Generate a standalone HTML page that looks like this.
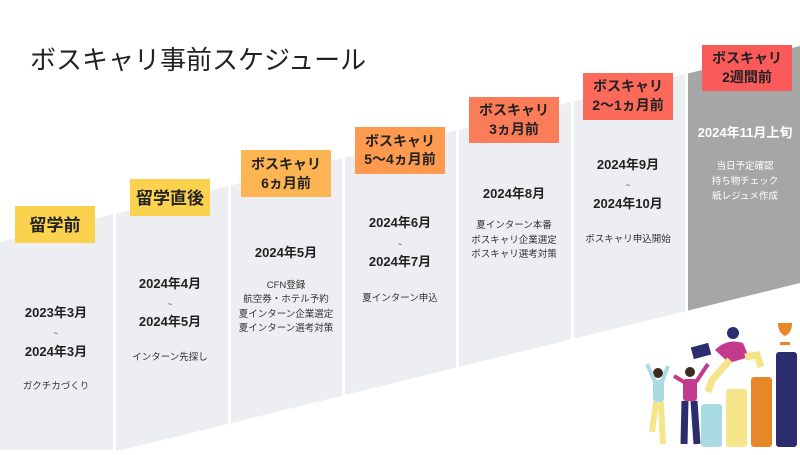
<!DOCTYPE html>
<html><head><meta charset="utf-8"><style>
body{margin:0;width:800px;height:450px;overflow:hidden;background:#fff;font-family:"Liberation Sans","Noto Sans CJK JP",sans-serif;}
svg text{font-family:"Liberation Sans","Noto Sans CJK JP",sans-serif;}
</style></head><body>
<svg width="800" height="450" viewBox="0 0 800 450">
<defs><clipPath id="band"><polygon points="0,242 800,46 800,283 0,480"/></clipPath></defs>
<g clip-path="url(#band)">
<rect x="0" y="0" width="113" height="450" fill="#eceef1"/>
<rect x="116" y="0" width="112" height="450" fill="#eceef1"/>
<rect x="231" y="0" width="111" height="450" fill="#eceef1"/>
<rect x="345" y="0" width="111" height="450" fill="#eceef1"/>
<rect x="459" y="0" width="112" height="450" fill="#eceef1"/>
<rect x="574" y="0" width="111" height="450" fill="#eceef1"/>
<rect x="688" y="0" width="112" height="450" fill="#a6a6a6"/>
</g>
<text x="30" y="69" font-size="26" fill="#222">ボスキャリ事前スケジュール</text>

<rect x="15" y="206" width="80" height="37" fill="#fbd24e"/>
<text x="55" y="231" font-size="17" font-weight="bold" text-anchor="middle" fill="#222">留学前</text>
<rect x="130" y="179" width="80" height="37" fill="#fbd24e"/>
<text x="170" y="204" font-size="17" font-weight="bold" text-anchor="middle" fill="#222">留学直後</text>
<rect x="241" y="150" width="90" height="47" fill="#fdb553"/>
<text x="286" y="169" font-size="14" font-weight="bold" text-anchor="middle" fill="#222">ボスキャリ</text>
<text x="286" y="188" font-size="14" font-weight="bold" text-anchor="middle" fill="#222">6ヵ月前</text>
<rect x="355" y="127" width="90" height="47" fill="#fd9a4f"/>
<text x="400" y="146" font-size="14" font-weight="bold" text-anchor="middle" fill="#222">ボスキャリ</text>
<text x="400" y="164" font-size="14" font-weight="bold" text-anchor="middle" fill="#222">5〜4ヵ月前</text>
<rect x="469" y="97" width="90" height="46" fill="#fb7c58"/>
<text x="514" y="115" font-size="14" font-weight="bold" text-anchor="middle" fill="#222">ボスキャリ</text>
<text x="514" y="134" font-size="14" font-weight="bold" text-anchor="middle" fill="#222">3ヵ月前</text>
<rect x="583" y="73" width="90" height="47" fill="#fb6a5a"/>
<text x="628" y="91" font-size="14" font-weight="bold" text-anchor="middle" fill="#222">ボスキャリ</text>
<text x="628" y="110" font-size="14" font-weight="bold" text-anchor="middle" fill="#222">2〜1ヵ月前</text>
<rect x="702" y="45" width="90" height="46" fill="#fb5a5a"/>
<text x="747" y="63" font-size="14" font-weight="bold" text-anchor="middle" fill="#222">ボスキャリ</text>
<text x="747" y="82" font-size="14" font-weight="bold" text-anchor="middle" fill="#222">2週間前</text>

<g font-size="13" font-weight="bold" fill="#222" text-anchor="middle">
<text x="56" y="317">2023年3月</text><text x="56" y="356">2024年3月</text>
<text x="170" y="288">2024年4月</text><text x="170" y="326">2024年5月</text>
<text x="286" y="257">2024年5月</text>
<text x="400" y="227">2024年6月</text><text x="400" y="266">2024年7月</text>
<text x="514" y="198">2024年8月</text>
<text x="628" y="169">2024年9月</text><text x="628" y="208">2024年10月</text>
<text x="745" y="137" fill="#fff">2024年11月上旬</text>
</g>
<g font-size="8" fill="#444" text-anchor="middle">
<text x="56" y="336">~</text><text x="170" y="307">~</text><text x="400" y="247">~</text><text x="628" y="188">~</text>
</g>
<g font-size="9.5" fill="#333" text-anchor="middle">
<text x="56" y="389">ガクチカづくり</text>
<text x="170" y="360">インターン先探し</text>
<text x="286" y="288">CFN登録</text><text x="286" y="302">航空券・ホテル予約</text><text x="286" y="317">夏インターン企業選定</text><text x="286" y="331">夏インターン選考対策</text>
<text x="400" y="301">夏インターン申込</text>
<text x="514" y="228">夏インターン本番</text><text x="514" y="243">ボスキャリ企業選定</text><text x="514" y="257">ボスキャリ選考対策</text>
<text x="628" y="242">ボスキャリ申込開始</text>
<text x="745" y="169" fill="#fff">当日予定確認</text><text x="745" y="184" fill="#fff">持ち物チェック</text><text x="745" y="199" fill="#fff">紙レジュメ作成</text>
</g>

<!-- illustration -->
<rect x="701" y="404" width="21" height="43" rx="3" fill="#a9dbe3"/>
<rect x="726" y="389" width="21" height="58" rx="3" fill="#f5e58a"/>
<rect x="751" y="377" width="21" height="70" rx="3" fill="#e8862a"/>
<rect x="776" y="352" width="21" height="95" rx="3" fill="#2b2d6e"/>
<path d="M778,323 h14 q0,10 -7,13 v6 h5 v3 h-10 v-3 h5 v-6 q-7,-3 -7,-13z" fill="#e8862a"/>
<!-- person 1 -->
<circle cx="658" cy="373" r="5" fill="#3a2a20"/>
<rect x="653" y="380" width="11" height="22" rx="3" fill="#a9dbe3"/>
<path d="M655,382 l-8,-18 M662,382 l6,-16" stroke="#a9dbe3" stroke-width="4"/>
<path d="M656,402 l-4,30 M661,402 l2,42" stroke="#f5e58a" stroke-width="6"/>
<!-- person 2 -->
<circle cx="690" cy="372" r="5" fill="#3a2a20"/>
<rect x="683" y="379" width="14" height="22" rx="3" fill="#c43a8e"/>
<path d="M684,382 l-10,-6 M696,382 l12,-18" stroke="#c43a8e" stroke-width="4"/>
<path d="M685,401 l-1,43 M694,401 l3,43" stroke="#2b2d6e" stroke-width="7"/>
<!-- person 3 jumping -->
<circle cx="733" cy="333" r="6" fill="#2b2d6e"/>
<path d="M715,350 q12,-12 28,-7 l6,14 -20,6z" fill="#c43a8e"/>
<path d="M730,360 l-18,20 -4,12 M745,357 l12,-2 4,12" stroke="#f5e58a" stroke-width="7" fill="none"/>
<rect x="692" y="345" width="18" height="12" fill="#2b2d6e" transform="rotate(-15 701 351)"/>
</svg>
</body></html>
